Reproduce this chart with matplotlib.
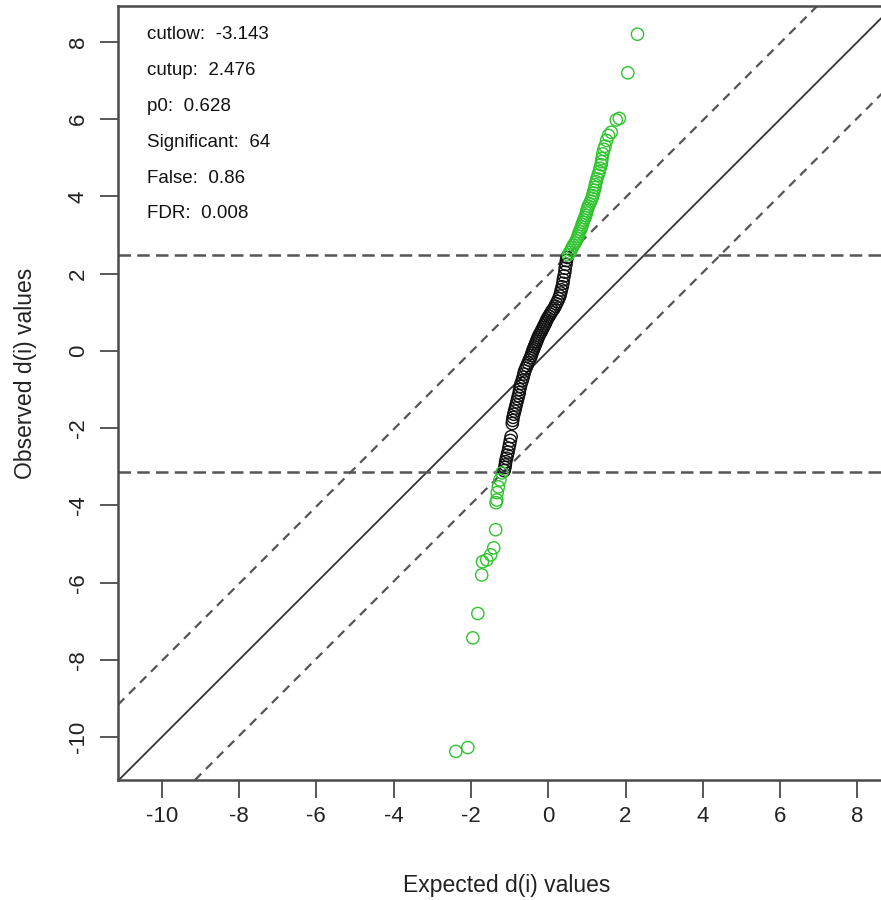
import matplotlib
matplotlib.use("Agg")
import matplotlib.pyplot as plt
import numpy as np

plt.rcParams['font.family'] = ['Liberation Sans', 'DejaVu Sans']

# ---- data ----
cutlow = -3.143
cutup = 2.476
delta = 1.97

black_x = [-1.14, -1.12, -1.11, -1.10, -1.08, -1.06, -1.04, -1.02, -1.00, -0.98, -0.96,
           -0.93, -0.92, -0.91, -0.89, -0.87, -0.85, -0.83, -0.81, -0.79, -0.77, -0.75,
           -0.74, -0.72, -0.70, -0.67, -0.65, -0.63, -0.61, -0.58, -0.55, -0.52, -0.49,
           -0.46, -0.44, -0.42, -0.40, -0.38, -0.36, -0.34, -0.32, -0.30, -0.28, -0.26,
           -0.24, -0.21, -0.18, -0.16, -0.13, -0.11, -0.08, -0.06, -0.04, -0.01, 0.02,
           0.05, 0.08, 0.11, 0.15, 0.18, 0.21, 0.24, 0.27, 0.30, 0.32, 0.34, 0.36, 0.38,
           0.39, 0.41, 0.43, 0.44, 0.46, 0.47, 0.49]
black_y = [-3.10, -3.02, -2.95, -2.87, -2.78, -2.70, -2.62, -2.52, -2.42, -2.32, -2.22,
           -1.88, -1.80, -1.72, -1.64, -1.56, -1.48, -1.40, -1.32, -1.24, -1.16, -1.08,
           -1.00, -0.92, -0.84, -0.76, -0.68, -0.60, -0.52, -0.45, -0.38, -0.31, -0.24,
           -0.18, -0.12, -0.06, 0.00, 0.05, 0.10, 0.15, 0.20, 0.25, 0.30, 0.35, 0.40,
           0.45, 0.50, 0.55, 0.60, 0.65, 0.70, 0.75, 0.80, 0.85, 0.90, 0.95, 1.00, 1.05,
           1.10, 1.16, 1.22, 1.28, 1.35, 1.42, 1.50, 1.58, 1.66, 1.75, 1.84, 1.94, 2.04,
           2.14, 2.24, 2.34, 2.42]

up_x = [0.52, 0.56, 0.59, 0.62, 0.65, 0.69, 0.72, 0.75, 0.77, 0.79, 0.81, 0.84, 0.86,
        0.88, 0.90, 0.92, 0.95, 0.97, 0.99, 1.00, 1.02, 1.04, 1.07, 1.10, 1.13, 1.15,
        1.17, 1.19, 1.21, 1.22, 1.24, 1.26, 1.29, 1.32, 1.34, 1.37, 1.38, 1.39, 1.41,
        1.44, 1.47, 1.51, 1.56, 1.63, 1.76, 1.84, 2.06, 2.31]
up_y = [2.49, 2.55, 2.61, 2.67, 2.73, 2.79, 2.85, 2.91, 2.97, 3.03, 3.09, 3.15, 3.21,
        3.27, 3.33, 3.39, 3.45, 3.51, 3.57, 3.63, 3.69, 3.75, 3.81, 3.88, 3.95, 4.02,
        4.09, 4.16, 4.23, 4.30, 4.38, 4.46, 4.55, 4.64, 4.73, 4.82, 4.90, 4.98, 5.10,
        5.22, 5.30, 5.45, 5.58, 5.66, 5.98, 6.02, 7.20, 8.20]

low_x = [-2.39, -2.08, -1.95, -1.82, -1.72, -1.70, -1.59, -1.49, -1.41, -1.36, -1.35,
         -1.33, -1.32, -1.29, -1.25, -1.20]
low_y = [-10.37, -10.27, -7.43, -6.80, -5.80, -5.46, -5.41, -5.28, -5.10, -4.63, -3.93,
         -3.86, -3.67, -3.52, -3.34, -3.16]

info_labels = ["cutlow:  -3.143", "cutup:  2.476", "p0:  0.628",
               "Significant:  64", "False:  0.86", "FDR:  0.008"]

xticks = [-10, -8, -6, -4, -2, 0, 2, 4, 6, 8]
yticks = [-10, -8, -6, -4, -2, 0, 2, 4, 6, 8]

# ---- figure ----
W, H = 881, 900
fig = plt.figure(figsize=(W / 100, H / 100), dpi=100)
ax = fig.add_axes([118 / W, (H - 780) / H, (893 - 118) / W, (780 - 6) / H])
ax.set_xlim(-11.13, 8.92)
ax.set_ylim(-11.11, 8.93)

gray = '#4a4a4a'
ax.axline((0, 0), slope=1, color='#333333', lw=1.3)
ax.axline((0, delta), slope=1, color='#555555', lw=1.6, ls=(0, (4, 3)))
ax.axline((0, -delta), slope=1, color='#555555', lw=1.6, ls=(0, (4, 3)))
ax.axhline(cutup, color='#555555', lw=1.8, ls=(0, (5, 2.5)))
ax.axhline(cutlow, color='#555555', lw=1.8, ls=(0, (5, 2.5)))

ms = 78
green = '#2fc42f'
ax.scatter(black_x, black_y, s=ms, facecolors='none', edgecolors='#111111', linewidths=1.0, zorder=3)
ax.scatter(up_x, up_y, s=ms, facecolors='none', edgecolors=green, linewidths=1.0, zorder=3)
ax.scatter(low_x, low_y, s=ms, facecolors='none', edgecolors=green, linewidths=1.0, zorder=3)

for i, t in enumerate(info_labels):
    ax.text(-10.38, 8.18 - 0.926 * i, t, fontsize=13.5, ha='left', va='center', color='#111111')

ax.set_xticks(xticks)
ax.set_yticks(yticks)
ax.set_xticklabels([str(v) for v in xticks])
ax.set_yticklabels([str(v) for v in yticks], rotation=90, va='center')
ax.tick_params(axis='both', length=13, width=1.3, color=gray, labelsize=16, labelcolor='#222222')
ax.tick_params(axis='x', pad=6)
ax.tick_params(axis='y', pad=8)
for s in ax.spines.values():
    s.set_color(gray)
    s.set_linewidth(1.8)

ax.set_xlabel("Expected d(i) values", fontsize=16.5, color='#222222', va='center')
ax.set_ylabel("Observed d(i) values", fontsize=16.5, color='#222222', va='center')
ax.xaxis.set_label_coords(0.501, -0.1357)
ax.yaxis.set_label_coords(-0.12, 0.525)

fig.savefig("out.png", dpi=100)
